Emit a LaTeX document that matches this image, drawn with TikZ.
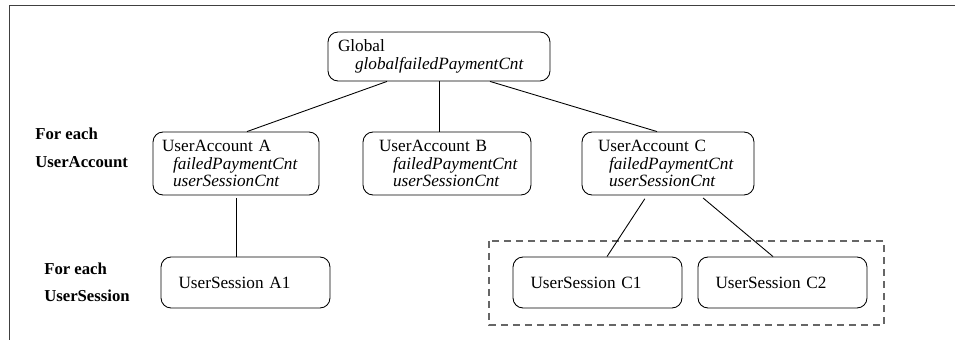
\documentclass[tikz,border=0pt]{standalone}
\usepackage{fontspec}
\setmainfont{Liberation Serif}
\usetikzlibrary{positioning}
\hyphenpenalty=10000
\exhyphenpenalty=10000

\begin{document}
\begin{tikzpicture}[x=0.02cm, y=-0.02cm,
  box/.style={draw, rounded corners=0.2cm, line width=0.5pt, align=left,
    font=\fontsize{9.8}{10}\selectfont},
  acct/.style={box, minimum height=1.26cm},
  sess/.style={box, minimum width=3.38cm, minimum height=1.02cm,
    inner xsep=0.35cm, text width=2.68cm},
  lbl/.style={anchor=base west, inner sep=0pt,
    font=\fontsize{9.5}{11}\selectfont\bfseries},
  link/.style={line width=0.5pt}]
  % page size and the frame around it
  \useasboundingbox (0,0) rectangle (955,340);
  \draw[black!75, line width=0.8pt] (9.5,340) -- (9.5,5.5) -- (955,5.5);

  % top level
  \node[box, minimum width=4.44cm, minimum height=0.98cm, inner xsep=0.2cm,
    text width=4.04cm] (glob) at (439,56.5)
    {Global\\\hspace*{0.34cm}\textit{globalfailedPaymentCnt}};

  % one box per account
  \node[acct, minimum width=3.32cm, inner xsep=0.18cm, text width=2.96cm]
    (accA) at (236,163.5) {UserAccount A\\\hspace*{0.22cm}\textit{failedPaymentCnt}\\\hspace*{0.22cm}\textit{userSessionCnt}};
  \node[acct, minimum width=3.36cm, inner xsep=0.32cm, text width=2.72cm]
    (accB) at (447,163.5) {UserAccount B\\\hspace*{0.28cm}\textit{failedPaymentCnt}\\\hspace*{0.28cm}\textit{userSessionCnt}};
  \node[acct, minimum width=3.44cm, inner xsep=0.32cm, text width=2.8cm]
    (accC) at (668,163.5) {UserAccount C\\\hspace*{0.22cm}\textit{failedPaymentCnt}\\\hspace*{0.22cm}\textit{userSessionCnt}};

  % sessions
  \node[sess] (sessA1) at (245.5,282.5) {UserSession A1};
  \node[sess] (sessC1) at (597.5,282.5) {UserSession C1};
  \node[sess] (sessC2) at (782.5,282.5) {UserSession C2};
  \draw[black!60, line width=0.6pt, dash pattern=on 0.14cm off 0.1cm]
    (489,241) rectangle (884,325);

  % row labels
  \node[lbl] (eachAcct) at (35,140) {For each};
  \node[lbl] (acctLbl) at (35,168) {UserAccount};
  \node[lbl] (eachSess) at (44,275) {For each};
  \node[lbl] (sessLbl) at (44,302) {UserSession};

  % links
  \draw[link] ([xshift=-1.04cm]glob.south) -- ([xshift=0.22cm]accA.north);
  \draw[link] (glob.south) -- (glob.south |- accB.north);
  \draw[link] ([xshift=1.02cm]glob.south) -- ([xshift=-0.22cm]accC.north);
  \draw[link, shorten <=0.06cm] (accA.south) -- (accA.south |- sessA1.north);
  \draw[link, shorten <=0.08cm] ([xshift=-0.42cm]accC.south) -- ([xshift=0.19cm]sessC1.north);
  \draw[link, shorten <=0.08cm] ([xshift=0.64cm]accC.south) -- ([xshift=-0.19cm]sessC2.north);
\end{tikzpicture}
\end{document}
